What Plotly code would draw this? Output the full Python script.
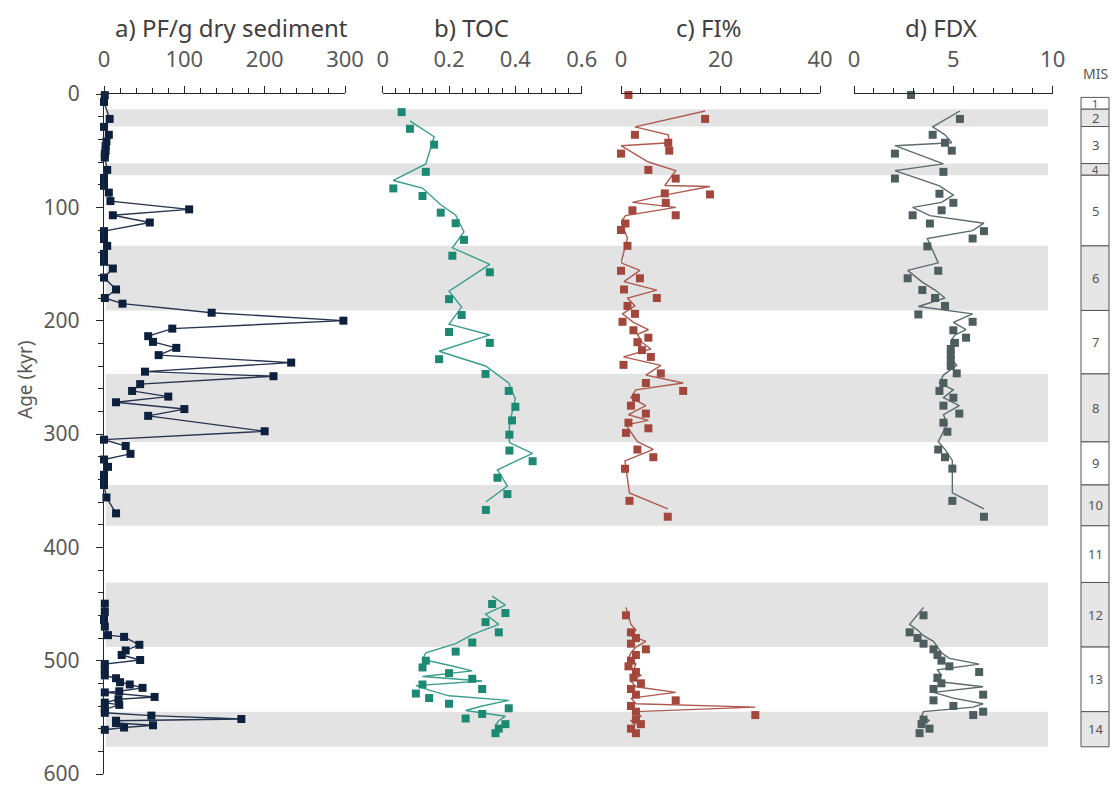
import plotly.graph_objects as go

W, H = 1115, 787

# ---------------- data ----------------
pf_age = [1, 7, 22, 29, 36, 42, 46, 50, 53, 56, 67, 74, 78, 81, 87, 94.5, 101.8, 107, 113.4, 121, 125, 128,
          134, 141, 145, 148, 154, 162, 172.5, 180, 185, 193, 200, 207, 213.7, 218.7, 224, 230.4, 237, 245, 249,
          256, 262, 267, 272, 278, 284, 297.6, 305, 310.6, 317.5, 322.5, 329, 336, 341, 345, 356, 370,
          449.7, 457, 464, 470, 477.5, 479, 486, 491, 495, 499.4, 503, 508, 513, 515.5, 519, 521, 524, 527, 528,
          532, 534, 537, 539, 543, 546, 548.5, 551.5, 553, 555, 557, 559, 561]
pf_val = [1, 0, 7, 0, 6, 3, 2, 2, 1, 1, 4, 0, 0, 0, 6, 8, 106, 11, 57, 0, 0, 0,
          4, 0, 0, 0, 11, 0, 15, 1, 23, 134, 298, 85, 55, 61, 90, 68, 233, 51, 211,
          45, 35, 80, 15, 100, 55, 200, 0, 27, 33, 0, 5, 0, 0, 0, 3, 15,
          1, 1, 0, 1, 5, 25, 44, 27, 22, 45, 1, 1, 1, 15, 20, 32, 48, 19, 1,
          63, 18, 1, 19, 1, 1, 59, 171, 15, 15, 61, 25, 1]

toc_age = [16, 30.7, 44.7, 68.7, 83.3, 90, 104.7, 114, 128.7, 142.7, 157.3, 181, 195, 210, 219.6, 234, 247,
           262, 276, 288, 300.6, 314.6, 324, 338.6, 353, 367,
           450, 458, 466, 475, 484, 492, 500, 506, 511, 516, 521, 525, 529, 533, 538, 542, 547, 551, 556, 560, 564]
toc_val = [0.057, 0.082, 0.155, 0.13, 0.032, 0.12, 0.175, 0.22, 0.245, 0.21, 0.323, 0.2, 0.238, 0.2, 0.323, 0.17, 0.31,
           0.38, 0.40, 0.39, 0.382, 0.382, 0.452, 0.346, 0.376, 0.311,
           0.33, 0.37, 0.31, 0.35, 0.27, 0.22, 0.13, 0.12, 0.2, 0.27, 0.12, 0.3, 0.1, 0.14, 0.2, 0.38, 0.3, 0.25,
           0.37, 0.35, 0.34]

fi_age = [0.9, 22, 36, 43, 50, 52.6, 67, 74.6, 87.7, 88.6, 96, 102.6, 107, 114.3, 120, 134, 156, 162.6, 172.5,
          180, 187, 194, 201, 208.5, 215, 219, 226, 232, 239, 246.5,
          255, 262, 268, 275, 282, 290, 295, 299, 313.7, 320.5, 330.7, 359, 373,
          460, 475, 480, 485, 490, 495, 500, 505, 510, 515, 520, 525, 530, 535, 540, 545, 548, 552, 556, 560, 564]
fi_val = [1.5, 16.9, 2.8, 9.5, 9.7, 0, 5.5, 11, 8.8, 17.9, 9.0, 2.3, 11, 0.9, 0, 1.3, 0, 3.8, 0.6,
          7.2, 1.3, 2.8, 0.3, 2.5, 5.5, 3.3, 4.2, 6, 0.5, 8,
          5, 12.5, 3, 2, 5, 1.5, 5.5, 1, 3.3, 6.5, 0.8, 1.7, 9.4,
          1, 2, 3, 2, 5, 3, 2, 1.5, 3, 2.5, 4, 2, 3, 11, 2, 3, 27, 3, 4, 2, 3]

fdx_age = [0.9, 22, 36, 43, 50, 52.6, 68.7, 74.6, 88, 96, 102.6, 107, 114.3, 121, 127.5, 134.5, 156, 162.6, 173,
           180, 187, 194.5, 201, 208.5, 215, 219.6, 225, 230, 235, 240, 246.5,
           255, 262, 268, 275, 282, 290, 298, 313.7, 320.5, 330.5, 359, 373,
           460, 475, 480, 485, 490, 495, 500, 505, 510, 515, 520, 525, 530, 535, 540, 545, 548, 552, 556, 560, 564]
fdx_val = [2.87, 5.33, 3.96, 4.58, 4.92, 2.06, 4.5, 2.06, 4.3, 5.0, 4.41, 2.95, 3.82, 6.54, 5.97, 3.69, 4.24, 2.7,
           3.44, 4.08, 4.58, 3.24, 5.97, 5.0, 5.64, 5.08, 4.87, 4.87, 4.87, 4.87, 5.17,
           4.5, 4.3, 5, 4.5, 5.3, 4.5, 4.7, 4.24, 4.58, 4.95, 4.95, 6.54,
           3.5, 2.8, 3.2, 3.5, 4, 4.2, 4.4, 4.8, 6.3, 4.2, 4.4, 4, 6.5, 4, 5, 6.5, 6, 3.5, 3.4, 3.8, 3.3]

mis_labels = ["1", "2", "3", "4", "5", "6", "7", "8", "9", "10", "11", "12", "13", "14"]
mis_bounds = [3, 13.4, 28.7, 61.4, 71.7, 134, 191, 247, 307, 345, 381, 431, 488, 545, 576]
glacial = ["2", "4", "6", "8", "10", "12", "14"]

panel_titles = ["a) PF/g dry sediment", "b) TOC", "c) FI%", "d) FDX"]
y_title = "Age (kyr)"

# ---------------- layout helpers ----------------
def px(p):
    return p / W


def py(p):
    return 1 - p / H


TOP_PX, BOT_PX = 94, 774
LINE_SHIFT = 7  # kyr, connecting lines drawn slightly above markers (as in original)
FONT = "Noto Sans"
TICK_COL = "#595959"
AX_COL = "#262626"

panels = [
    dict(x0=104, x1=345, rng=[0, 300], dt=100, minor=20, title_x=231),
    dict(x0=382.7, x1=581.7, rng=[0, 0.6], dt=0.2, minor=0.04, title_x=471),
    dict(x0=621, x1=820, rng=[0, 40], dt=20, minor=4, title_x=709),
    dict(x0=854, x1=1052.7, rng=[0, 10], dt=5, minor=1, title_x=941),
]

fig = go.Figure()

series = [
    (pf_age, pf_val, "#0c1f3c", "#26344f", False),
    (toc_age, toc_val, "#1c8a72", "#3a9e8c", True),
    (fi_age, fi_val, "#a3473c", "#ad5a50", True),
    (fdx_age, fdx_val, "#4e5d5d", "#5d6b6b", True),
]


def broken(ages, vals, shift, skip_first):
    xs, ys = [], []
    start = 1 if skip_first else 0
    prev = None
    for a, v in zip(ages[start:], vals[start:]):
        if prev is not None and a - prev > 50:
            xs.append(None)
            ys.append(None)
        xs.append(v)
        ys.append(a - shift)
        prev = a
    return xs, ys


for i, (ages, vals, mcol, lcol, shifted) in enumerate(series):
    xa = "x" if i == 0 else f"x{i + 1}"
    lx, ly = broken(ages, vals, LINE_SHIFT if shifted else 0, shifted)
    fig.add_trace(go.Scatter(x=lx, y=ly, xaxis=xa, yaxis="y", mode="lines",
                             line=dict(color=lcol, width=1.4), connectgaps=False,
                             hoverinfo="skip", showlegend=False, cliponaxis=False))
    fig.add_trace(go.Scatter(x=vals, y=ages, xaxis=xa, yaxis="y", mode="markers",
                             marker=dict(symbol="square", size=8, color=mcol),
                             showlegend=False, cliponaxis=False))

layout = dict(
    width=W, height=H, margin=dict(l=0, r=0, t=0, b=0, autoexpand=False),
    paper_bgcolor="white", plot_bgcolor="rgba(0,0,0,0)",
    font=dict(family=FONT, color=TICK_COL),
    showlegend=False,
    yaxis=dict(domain=[py(BOT_PX), py(TOP_PX)], range=[600, 0], anchor="x", automargin=False,
               showline=True, linecolor=AX_COL, linewidth=1.3, showgrid=False, zeroline=False,
               ticks="outside", ticklen=7, tickcolor=AX_COL, dtick=100, tick0=0,
               minor=dict(dtick=20, ticks="outside", ticklen=5, tickcolor=AX_COL),
               tickfont=dict(size=21, color=TICK_COL), ticklabelstandoff=12,
               ticklabeloverflow="allow"),
)

for i, p in enumerate(panels):
    key = "xaxis" if i == 0 else f"xaxis{i + 1}"
    layout[key] = dict(domain=[px(p["x0"]), px(p["x1"])], range=p["rng"], anchor="y", side="top",
                       automargin=False, ticklabeloverflow="allow",
                       showline=True, linecolor=AX_COL, linewidth=1.3, showgrid=False, zeroline=False,
                       ticks="outside", ticklen=7, tickcolor=AX_COL, dtick=p["dt"], tick0=0,
                       minor=dict(dtick=p["minor"], ticks="outside", ticklen=5, tickcolor=AX_COL),
                       tickfont=dict(size=22, color=TICK_COL), ticklabelstandoff=10)

fig.update_layout(**layout)

# glacial bands + MIS column
for k, lab in enumerate(mis_labels):
    a0, a1 = mis_bounds[k], mis_bounds[k + 1]
    if lab in glacial:
        fig.add_shape(type="rect", xref="paper", yref="y", x0=px(106), x1=px(1048), y0=a0, y1=a1,
                      fillcolor="#e3e3e3", line=dict(width=0), layer="below")
    fig.add_shape(type="rect", xref="paper", yref="y", x0=px(1081), x1=px(1109), y0=a0, y1=a1,
                  fillcolor="#e6e6e6" if lab in glacial else "white",
                  line=dict(color="#555555", width=1), layer="below")
    fig.add_annotation(x=px(1095), y=(a0 + a1) / 2, xref="paper", yref="y", text=lab, showarrow=False,
                       xanchor="center", yanchor="middle",
                       font=dict(size=13 if (a1 - a0) > 12 else 11, color="#555555"))

fig.add_annotation(x=px(1095), y=py(74), xref="paper", yref="paper", text="MIS", showarrow=False,
                   xanchor="center", yanchor="middle", font=dict(size=14, color="#555555"))

for t, p in zip(panel_titles, panels):
    fig.add_annotation(x=px(p["title_x"]), y=py(27), xref="paper", yref="paper", text=t, showarrow=False,
                       xanchor="center", yanchor="middle", font=dict(size=24, color="#404040"))

fig.add_annotation(x=px(25), y=py(380), xref="paper", yref="paper", text=y_title, showarrow=False,
                   textangle=-90, xanchor="center", yanchor="middle", font=dict(size=19, color=TICK_COL))

fig.write_html("out.html")
